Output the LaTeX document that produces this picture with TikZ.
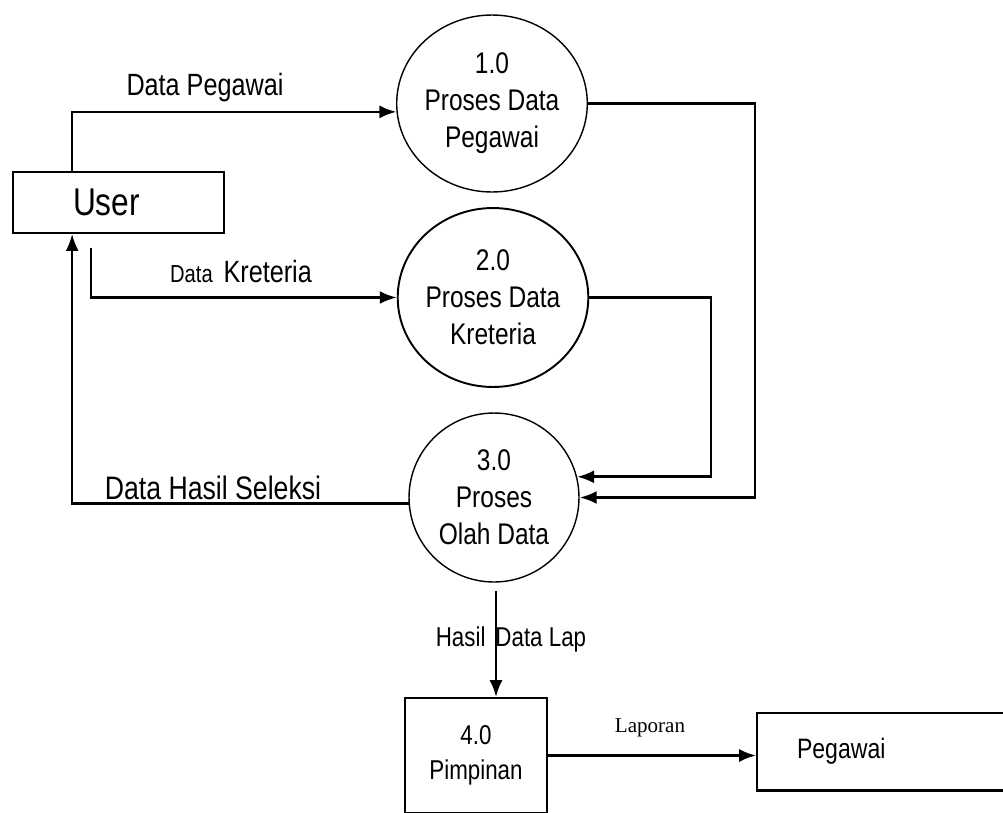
\documentclass[tikz,border=0pt]{standalone}
\usepackage{fontspec}
\setmainfont{Liberation Sans}
\newfontfamily\nar[FakeStretch=0.82]{Liberation Sans}
\newfontfamily\serifl{Liberation Serif}
\usetikzlibrary{arrows.meta,shapes.geometric,calc}
\tikzset{
  proc/.style={ellipse,draw,line width=0.8pt,inner sep=0pt,align=center,
    font=\nar\fontsize{17}{21}\selectfont},
  ent/.style={rectangle,draw,line width=1pt,inner sep=0pt},
  flow/.style={line width=1.5pt,-{Latex[length=0.34cm,width=0.26cm]}},
  lbl/.style={font=\nar\fontsize{17.5}{21}\selectfont,inner sep=0pt}
}
\begin{document}
\begin{tikzpicture}[x=0.02cm,y=-0.02cm]
\useasboundingbox (0,0) rectangle (1003,812);
\clip (0,0) rectangle (1003,812);
% processes
\node[proc,minimum width=3.7cm,minimum height=3.54cm] (p1) at (492,103.5) {1.0\\Proses Data\\Pegawai};
\node[proc,minimum width=3.34cm,minimum height=3.58cm,line width=1.1pt] (p2) at (493,297.5) {2.0\\Proses Data\\Kreteria};
\node[proc,minimum width=3.4cm,minimum height=3.38cm] (p3) at (494,497.5) {3.0\\Proses\\Olah Data};
% entities
\node[ent,minimum width=4.22cm,minimum height=1.22cm,text width=1.82cm,inner xsep=1.2cm,align=left,
  font=\nar\fontsize{22}{26}\selectfont] (user) at (118.5,202.5) {User};
\node[ent,minimum width=2.84cm,minimum height=2.3cm,align=center,
  font=\nar\fontsize{15.5}{20}\selectfont] (pimp) at (476,755.5) {4.0\\Pimpinan};
\node[ent,minimum width=5.2cm,minimum height=1.54cm,text width=3.6cm,inner xsep=0.8cm,align=left,
  font=\nar\fontsize{16}{20}\selectfont] (peg) at (887,751.5) {Pegawai};
\draw[line width=1.6pt] (peg.south west) -- (peg.south east);
% helper coordinates
\coordinate (c1) at (755,0);
\coordinate (c2) at (711,0);
\coordinate (uo) at ([xshift=1.2cm]user.north west);
\coordinate (us) at ([xshift=1.2cm]user.south west);
\coordinate (uk) at ([xshift=1.58cm,yshift=-0.28cm]user.south west);
\coordinate (p3s) at ([xshift=0.04cm,yshift=-0.16cm]p3.south);
% flows
\draw[flow] (uo) |- (p1.185);
\draw[flow] (uk) |- (p2.west);
\draw[flow] (p3.184) -| (us);
\draw[flow] (p1.east) -| (p3.east -| c1) -- (p3.east);
\draw[flow] (p2.east) -| (p3.14 -| c2) -- (p3.14);
\draw[flow] (p3s) -- (p3s |- pimp.north);
\draw[flow] (pimp.east) -- (pimp.east -| peg.west);
% labels
\node[lbl] (l1) at (205,88) {Data Pegawai};
\node[lbl,anchor=base] (l2) at (241,282) {{\fontsize{14}{16}\selectfont Data}\hspace{0.35em}Kreteria};
\node[lbl,font=\nar\fontsize{18.5}{21}\selectfont] (l3) at (213,488) {Data Hasil Seleksi};
\node[lbl,font=\nar\fontsize{15.5}{18}\selectfont] (l4) at (511,639) {Hasil\hspace{0.2cm}Data Lap};
\node[lbl,font=\serifl\fontsize{12}{14}\selectfont] (l5) at (650,728) {Laporan};
\end{tikzpicture}
\end{document}
